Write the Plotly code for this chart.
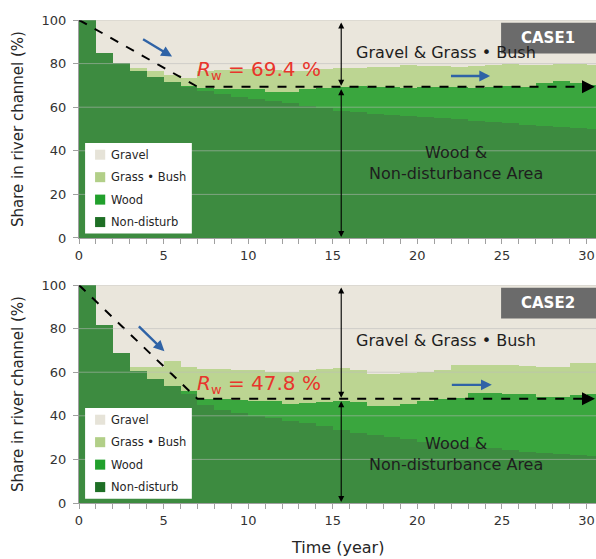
import plotly.graph_objects as go

# ---------------------------------------------------------------
# Share of river channel by land cover, per year (%)
# ---------------------------------------------------------------
years = list(range(0, 31))

# CASE1
case1_non_disturb = [100, 85, 80.5, 76.5, 74, 71.5, 69.4, 67.5, 66, 64.8, 63.6, 62.8, 61.8, 60.6,
                     59.5, 58.4, 57.7, 57.1, 56.5, 55.8, 55.5, 55, 54.4, 53.8, 53.2, 52.6, 52,
                     51.4, 50.8, 50.3, 49.8]
case1_wood = [0, 0, 0, 0, 0, 0, 0.5, 1.5, 2.5, 3.4, 4.9, 4.4, 5.2, 7.9, 9.5, 10.8, 11.8, 12.3,
              12.8, 13.2, 13.7, 14.4, 14.8, 15.2, 16.1, 16.9, 17.4, 19.6, 21.0, 20.9, 20.2]
case1_grass_bush = [0, 0, 0, 1.4, 2.8, 3.1, 3.3, 7.8, 8.7, 9.1, 8.9, 9.7, 9.8, 8.3, 8.4, 8.6,
                    8.3, 9.2, 9.3, 10.3, 9.8, 9.6, 9.4, 10.0, 10.2, 10.5, 9.8, 8.5, 8.2, 8.6, 9.2]
case1_gravel = [0, 15, 19.5, 22.1, 23.2, 25.4, 26.8, 23.2, 22.8, 22.7, 22.6, 23.1, 23.2, 23.2,
                22.6, 22.2, 22.2, 21.4, 21.4, 20.7, 21.0, 21.0, 21.4, 21.0, 20.5, 20.0, 20.8,
                20.5, 20.0, 20.2, 20.8]

# CASE2
case2_non_disturb = [100, 81.7, 69, 60.5, 57, 53.6, 49.8, 45, 42.7, 41.2, 40, 38.8, 37.8, 36.6,
                     35.1, 33.6, 32.2, 31, 30.2, 29.3, 28, 27.3, 26.5, 25.8, 25, 24.3, 23.6, 23,
                     22.5, 22, 21.7]
case2_wood = [0, 0, 0, 0, 0, 0, 1.4, 2.8, 4.8, 6.0, 7.0, 7.8, 7.7, 9.2, 11.4, 13.2, 14.0, 13.3,
              14.1, 16.0, 18.6, 20.2, 21.6, 24.6, 25.4, 25.9, 26.2, 25.7, 26.2, 27.5, 28.3]
case2_grass_bush = [0, 0, 0, 2.0, 5.5, 11.4, 11.3, 13.7, 13.8, 13.8, 13.8, 13.7, 14.5, 15.2,
                    15.0, 15.0, 14.8, 14.9, 14.9, 14.3, 13.7, 13.5, 15.2, 13.1, 13.1, 13.0, 13.0,
                    13.9, 13.9, 14.9, 14.4]
case2_gravel = [0, 18.3, 31, 37.5, 37.5, 35.0, 37.5, 38.5, 38.7, 39.0, 39.2, 39.7, 40.0, 39.0,
                38.5, 38.2, 39.0, 40.8, 40.8, 40.4, 39.7, 39.0, 36.7, 36.5, 36.5, 36.8, 37.2,
                37.4, 37.4, 35.6, 35.6]

# Wood-retention ratio R_w and the year it is reached
rw_case1 = 69.4
rw_case2 = 47.8
rw_year = 7

categories = ["Gravel", "Grass \u2022 Bush", "Wood", "Non-disturb"]
x_ticks = [0, 5, 10, 15, 20, 25, 30]
y_ticks = [0, 20, 40, 60, 80, 100]

# ---------------------------------------------------------------
FONT = "DejaVu Sans"
fill_colors = {"Non-disturb": "#3d8b40", "Wood": "#3aa63e",
               "Grass \u2022 Bush": "#bcd592", "Gravel": "#eae6dc"}
swatch_colors = {"Gravel": "#e6e3d8", "Grass \u2022 Bush": "#b2cf88",
                 "Wood": "#21a02c", "Non-disturb": "#1e6f25"}
X_MAX = 30.56
LINE_END = 30.5

fig = go.Figure()

panels = [
    dict(xa="x", ya="y", name="CASE1", rw=rw_case1,
         layers=[("Non-disturb", case1_non_disturb), ("Wood", case1_wood),
                 ("Grass \u2022 Bush", case1_grass_bush), ("Gravel", case1_gravel)]),
    dict(xa="x2", ya="y2", name="CASE2", rw=rw_case2,
         layers=[("Non-disturb", case2_non_disturb), ("Wood", case2_wood),
                 ("Grass \u2022 Bush", case2_grass_bush), ("Gravel", case2_gravel)]),
]

shapes = []
annotations = []

for p in panels:
    xa, ya = p["xa"], p["ya"]
    # yearly stacked steps
    for name, vals in p["layers"]:
        fig.add_trace(go.Bar(
            x=years, y=vals, width=1, offset=0, name=name,
            marker=dict(color=fill_colors[name], line=dict(width=0)),
            xaxis=xa, yaxis=ya, showlegend=False, hoverinfo="skip"))

    # R_w trend line: linear decline to the retention level, then flat
    fig.add_trace(go.Scatter(
        x=[0, rw_year, LINE_END - 0.3], y=[100, p["rw"], p["rw"]],
        mode="lines",
        line=dict(color="black", width=2, dash="dash"),
        xaxis=xa, yaxis=ya, showlegend=False, hoverinfo="skip", cliponaxis=False))
    annotations.append(dict(xref=xa, yref=ya, axref=xa, ayref=ya,
                            x=LINE_END, y=p["rw"], ax=LINE_END - 0.35, ay=p["rw"],
                            text="", showarrow=True, arrowhead=2, arrowsize=1.3,
                            arrowwidth=2, arrowcolor="black"))

    # horizontal gridlines drawn over the areas
    for yv in [20, 40, 60, 80, 100]:
        shapes.append(dict(type="line", xref=xa, yref=ya, x0=0, x1=X_MAX, y0=yv, y1=yv,
                           line=dict(color="rgba(185,185,185,0.55)", width=1), layer="above"))

    # legend box
    shapes.append(dict(type="rect", xref=xa, yref=ya, x0=0.36, x1=6.67, y0=2.0, y1=43.6,
                       fillcolor="white", line=dict(width=0), layer="above"))
    for i, cat in enumerate(categories):
        yc = 38.2 - i * 10.3
        shapes.append(dict(type="rect", xref=xa, yref=ya, x0=0.95, x1=1.55,
                           y0=yc - 2.3, y1=yc + 2.3, fillcolor=swatch_colors[cat],
                           line=dict(width=0), layer="above"))
        annotations.append(dict(xref=xa, yref=ya, x=1.8, y=yc, text=cat, showarrow=False,
                                xanchor="left", yanchor="middle",
                                font=dict(family=FONT, size=11.5, color="#262626")))

    # case label
    shapes.append(dict(type="rect", xref=xa, yref=ya, x0=24.95, x1=X_MAX, y0=84.6, y1=98.7,
                       fillcolor="#6b6b6b", line=dict(width=0), layer="above"))
    annotations.append(dict(xref=xa, yref=ya, x=27.75, y=91.6, text="<b>" + p["name"] + "</b>",
                            showarrow=False, font=dict(family=FONT, size=15, color="white")))

    # double-headed extent arrows
    for y_a, y_b in [(100, p["rw"]), (p["rw"], 0)]:
        annotations.append(dict(xref=xa, yref=ya, axref=xa, ayref=ya, x=15.5, y=y_b,
                                ax=15.5, ay=y_a, text="", showarrow=True,
                                arrowside="end+start", arrowhead=2, startarrowhead=2,
                                arrowsize=1.1, startarrowsize=1.1, arrowwidth=1.1,
                                arrowcolor="black", standoff=1, startstandoff=1))

    # region labels
    top_y = 85.3 if p["name"] == "CASE1" else 74.4
    annotations.append(dict(xref=xa, yref=ya, x=21.7, y=top_y,
                            text="Gravel & Grass \u2022 Bush", showarrow=False,
                            font=dict(family=FONT, size=16, color="#1e1e1e")))
    low_y = 34.5 if p["name"] == "CASE1" else 22.4
    annotations.append(dict(xref=xa, yref=ya, x=22.3, y=low_y,
                            text="Wood &<br>Non-disturbance Area", showarrow=False,
                            font=dict(family=FONT, size=16, color="#1e1e1e")))

    # R_w value label
    rw_label_y = 77.2 if p["name"] == "CASE1" else 54.4
    annotations.append(dict(xref=xa, yref=ya, x=10.65, y=rw_label_y,
                            text="<i>R</i><sub><span style='font-size:13px'>w</span></sub>"
                                 " = %.1f %%" % p["rw"],
                            showarrow=False,
                            font=dict(family=FONT, size=20, color="#e8352c")))

    # blue trend arrows
    if p["name"] == "CASE1":
        diag = (3.7, 91.6, 5.5, 83.2)
        horiz = (21.9, 74.3, 24.3, 74.3)
    else:
        diag = (3.45, 81.7, 5.05, 69.6)
        horiz = (21.95, 54.2, 24.4, 54.2)
    for ax0, ay0, x1, y1 in (diag, horiz):
        annotations.append(dict(xref=xa, yref=ya, axref=xa, ayref=ya, x=x1, y=y1,
                                ax=ax0, ay=ay0, text="", showarrow=True, arrowhead=2,
                                arrowsize=0.9, arrowwidth=2.4, arrowcolor="#2f63a6"))

    # y-axis title
    annotations.append(dict(xref="paper", yref=ya + " domain", x=0, y=0.5, xshift=-61,
                            text="Share in river channel (%)", textangle=-90,
                            showarrow=False, xanchor="center", yanchor="middle",
                            font=dict(family=FONT, size=15, color="#262626")))

annotations.append(dict(xref="paper", yref="paper", x=0.5, y=-0.0925, text="Time (year)",
                        showarrow=False, xanchor="center", yanchor="middle",
                        font=dict(family=FONT, size=16, color="#262626")))

xaxis_common = dict(range=[0, X_MAX], tickmode="array", tickvals=x_ticks,
                    ticks="outside", ticklen=5, tickcolor="#a0a0a0",
                    minor=dict(dtick=1, tick0=0, ticks="outside", ticklen=5,
                               tickcolor="#a0a0a0", showgrid=False),
                    showline=True, linecolor="#a0a0a0", showgrid=False, zeroline=False,
                    tickfont=dict(family=FONT, size=13, color="#333333"), fixedrange=True)
yaxis_common = dict(range=[0, 100], tickmode="array", tickvals=y_ticks,
                    ticks="outside", ticklen=5, tickcolor="#a0a0a0",
                    showline=True, linecolor="#a0a0a0", showgrid=False, zeroline=False,
                    ticklabelstandoff=4,
                    tickfont=dict(family=FONT, size=13, color="#333333"), fixedrange=True)

fig.update_layout(
    width=596, height=559,
    margin=dict(l=79, r=0, t=20, b=56),
    paper_bgcolor="white", plot_bgcolor="white",
    barmode="stack", bargap=0,
    xaxis=dict(domain=[0, 1], anchor="y", **xaxis_common),
    yaxis=dict(domain=[0.5487, 1], anchor="x", **yaxis_common),
    xaxis2=dict(domain=[0, 1], anchor="y2", **xaxis_common),
    yaxis2=dict(domain=[0, 0.4513], anchor="x2", **yaxis_common),
    shapes=shapes, annotations=annotations,
)

fig.write_html("out.html")
